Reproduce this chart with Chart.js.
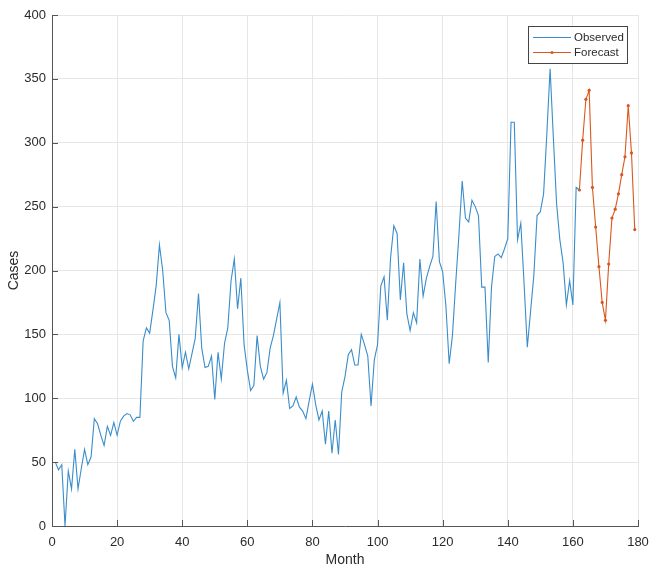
<!DOCTYPE html>
<html><head><meta charset="utf-8">
<script src="https://cdn.jsdelivr.net/npm/chart.js@4.4.1/dist/chart.umd.min.js"></script>
<style>html,body{margin:0;padding:0;background:#fff}#wrap{width:649px;height:569px;position:relative}</style>
</head><body><div id="wrap"><canvas id="c" width="649" height="569" style="width:649px;height:569px"></canvas></div>
<script>
const observedMonths = [1,2,3,4,5,6,7,8,9,10,11,12,13,14,15,16,17,18,19,20,21,22,23,24,25,26,27,28,29,30,31,32,33,34,35,36,37,38,39,40,41,42,43,44,45,46,47,48,49,50,51,52,53,54,55,56,57,58,59,60,61,62,63,64,65,66,67,68,69,70,71,72,73,74,75,76,77,78,79,80,81,82,83,84,85,86,87,88,89,90,91,92,93,94,95,96,97,98,99,100,101,102,103,104,105,106,107,108,109,110,111,112,113,114,115,116,117,118,119,120,121,122,123,124,125,126,127,128,129,130,131,132,133,134,135,136,137,138,139,140,141,142,143,144,145,146,147,148,149,150,151,152,153,154,155,156,157,158,159,160,161,162];
const observedCases = [50,44,48,0,43,29,60,29,45,60,48,54,84,80,71,63,78,71,81,71,82,86,88,87,82,85,85,145,155,151,169,188,220,200,167,161,125,116,150,124,136,123,135,147,182,139,124,125,133,99,136,115,143,155,192,209,170,194,142,122,106,110,149,125,115,120,139,149,162,175,104,114,92,94,101,93,90,84,98,111,95,83,90,64,90,57,83,56,105,117,134,138,126,126,150,142,133,94,130,142,188,195,161,210,235,229,177,206,166,153,167,159,209,180,194,203,211,254,207,199,172,127,149,190,228,270,241,238,255,250,243,187,187,128,187,211,213,210,217,225,316,316,224,237,190,140,168,196,243,246,260,307,358,304,252,224,206,173,192,173,265,263];
const forecastMonths = [162,163,164,165,166,167,168,169,170,171,172,173,174,175,176,177,178,179];
const forecastCases = [263,302,334,341,265,234,203,175,161,205,241,248,260,275,289,329,292,232];
const xTickValues = [0,20,40,60,80,100,120,140,160,180];
const yTickValues = [0,50,100,150,200,250,300,350,400];
const seriesLabels = ['Observed','Forecast'];
const xAxisTitle = 'Month';
const yAxisTitle = 'Cases';

const FONT = '"Liberation Sans", Arial, Helvetica, sans-serif';
const BLUE = '#3a8dca';
const ORANGE = '#d9581f';
const TEXT = '#2b2b2b';

const decor = {
  id: 'decor',
  afterDraw(chart) {
    const ctx = chart.ctx;
    const xs = chart.scales.x, ys = chart.scales.y;
    const a = chart.chartArea;
    ctx.save();
    ctx.strokeStyle = '#555';
    ctx.lineWidth = 1;
    ctx.beginPath();
    xTickValues.forEach(v => {
      const px = Math.round(xs.getPixelForValue(v)) + 0.5;
      ctx.moveTo(px, a.bottom); ctx.lineTo(px, a.bottom - 6);
    });
    yTickValues.forEach(v => {
      const py = Math.round(ys.getPixelForValue(v)) + 0.5;
      ctx.moveTo(a.left, py); ctx.lineTo(a.left + 6, py);
    });
    ctx.stroke();
    // legend
    const bx = 528.5, by = 26.5, bw = 99, bh = 37;
    ctx.fillStyle = '#fff';
    ctx.fillRect(bx, by, bw, bh);
    ctx.strokeStyle = '#444';
    ctx.strokeRect(bx, by, bw, bh);
    const rows = [
      {label: seriesLabels[0], color: BLUE, marker: false, y: 37.5},
      {label: seriesLabels[1], color: ORANGE, marker: true, y: 52.5}
    ];
    ctx.font = '11.5px ' + FONT;
    ctx.textBaseline = 'middle';
    ctx.textAlign = 'left';
    rows.forEach(r => {
      ctx.strokeStyle = r.color;
      ctx.lineWidth = 1;
      ctx.beginPath(); ctx.moveTo(533, r.y); ctx.lineTo(571, r.y); ctx.stroke();
      if (r.marker) { ctx.fillStyle = r.color; ctx.beginPath(); ctx.arc(552, r.y, 1.6, 0, Math.PI*2); ctx.fill(); }
      ctx.fillStyle = TEXT;
      ctx.fillText(r.label, 574, r.y + 0.5);
    });
    ctx.restore();
  }
};

new Chart(document.getElementById('c'), {
  type: 'line',
  data: {
    datasets: [
      { label: seriesLabels[0], data: observedMonths.map((m,i)=>({x:m, y:observedCases[i]})),
        borderColor: BLUE, borderWidth: 1.1, pointRadius: 0, tension: 0, fill: false },
      { label: seriesLabels[1], data: forecastMonths.map((m,i)=>({x:m, y:forecastCases[i]})),
        borderColor: ORANGE, backgroundColor: ORANGE, borderWidth: 1.1, pointRadius: 1.6, pointBorderWidth: 0, pointHoverRadius: 0, tension: 0, fill: false }
    ]
  },
  options: {
    responsive: false, devicePixelRatio: 1, animation: false,
    layout: { padding: { top: 15, right: 11, left: 0, bottom: 0 } },
    plugins: { legend: { display: false }, tooltip: { enabled: false } },
    scales: {
      x: {
        type: 'linear', min: 0, max: 180,
        afterBuildTicks: s => { s.ticks = xTickValues.map(v => ({ value: v })); },
        afterFit: s => { s.height = 43; s.paddingRight = 0; s.paddingLeft = 0; },
        grid: { color: '#e6e6e6', drawTicks: false, lineWidth: 1 },
        border: { color: '#555', width: 1 },
        ticks: { color: TEXT, font: { size: 13, family: FONT }, padding: 9, maxRotation: 0, autoSkip: false },
        title: { display: true, text: xAxisTitle, color: TEXT, font: { size: 14, family: FONT }, padding: { top: 0, bottom: 0 } }
      },
      y: {
        type: 'linear', min: 0, max: 400,
        afterBuildTicks: s => { s.ticks = yTickValues.map(v => ({ value: v })); },
        afterFit: s => { s.width = 52; s.paddingTop = 0; s.paddingBottom = 0; },
        grid: { color: '#e6e6e6', drawTicks: false, lineWidth: 1 },
        border: { color: '#555', width: 1 },
        ticks: { color: TEXT, font: { size: 13, family: FONT }, padding: 6, autoSkip: false },
        title: { display: true, text: yAxisTitle, color: TEXT, font: { size: 14, family: FONT }, padding: { top: 6, bottom: 0 } }
      }
    }
  },
  plugins: [decor]
});
</script></body></html>
